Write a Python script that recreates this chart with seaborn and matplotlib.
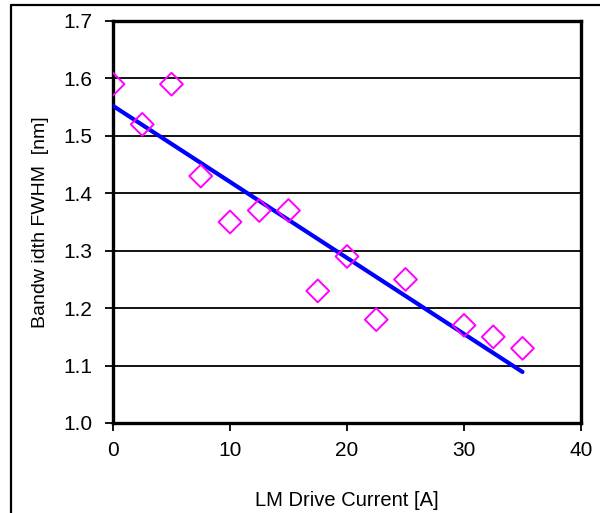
import matplotlib
matplotlib.use("Agg")
import matplotlib.pyplot as plt
from matplotlib.lines import Line2D
import seaborn as sns
import pandas as pd

current = [0, 2.5, 5, 7.5, 10, 12.5, 15, 17.5, 20, 22.5, 25, 30, 32.5, 35]
bandwidth = [1.59, 1.52, 1.59, 1.43, 1.35, 1.37, 1.37, 1.23, 1.29, 1.18, 1.25, 1.17, 1.15, 1.13]
x_ticks = [0, 10, 20, 30, 40]
y_ticks = [1.0, 1.1, 1.2, 1.3, 1.4, 1.5, 1.6, 1.7]
x_label = "LM Drive Current [A]"
y_label = "Bandw idth FWHM  [nm]"

df = pd.DataFrame({"current": current, "bandwidth": bandwidth})

sns.set_theme(style="white")
plt.rcParams['font.family'] = ['Liberation Sans', 'DejaVu Sans']

fig = plt.figure(figsize=(6.0, 5.13), dpi=100)
ax = fig.add_axes([113/600, 1-423/513, (581-113)/600, (423-21)/513])

for yv in y_ticks[1:-1]:
    ax.axhline(yv, color="black", lw=1.3, zorder=1)

sns.regplot(data=df, x="current", y="bandwidth", ax=ax, ci=None, truncate=True,
            scatter=False, line_kws=dict(color="#0000FF", lw=3.0, zorder=3))
sns.scatterplot(data=df, x="current", y="bandwidth", ax=ax, marker="D", s=135,
                facecolor="none", edgecolor="#FF00FF", linewidth=1.4, zorder=4)

ax.set_xlim(0, 40)
ax.set_ylim(1.0, 1.7)
ax.set_xticks(x_ticks)
ax.set_yticks(y_ticks)
ax.set_yticklabels([f"{v:.1f}" for v in y_ticks])
ax.tick_params(axis="both", direction="out", length=6, width=1.3, color="black",
               labelsize=15, labelcolor="black", left=True, bottom=True)
ax.tick_params(axis="y", pad=9)
ax.tick_params(axis="x", pad=7)
for s in ax.spines.values():
    s.set_color("black")
    s.set_linewidth(2.4)
    s.set_visible(True)
ax.set_xlabel(x_label, fontsize=14.5, color="black", labelpad=22)
ax.set_ylabel(y_label, fontsize=14, color="black", labelpad=10)
ax.set_facecolor("white")

fig.add_artist(Line2D([11/600, 11/600], [0, 1-5/513], transform=fig.transFigure, color="black", lw=1.6))
fig.add_artist(Line2D([11/600, 1], [1-5/513, 1-5/513], transform=fig.transFigure, color="black", lw=1.6))

fig.savefig("out.png", dpi=100, facecolor="white")
